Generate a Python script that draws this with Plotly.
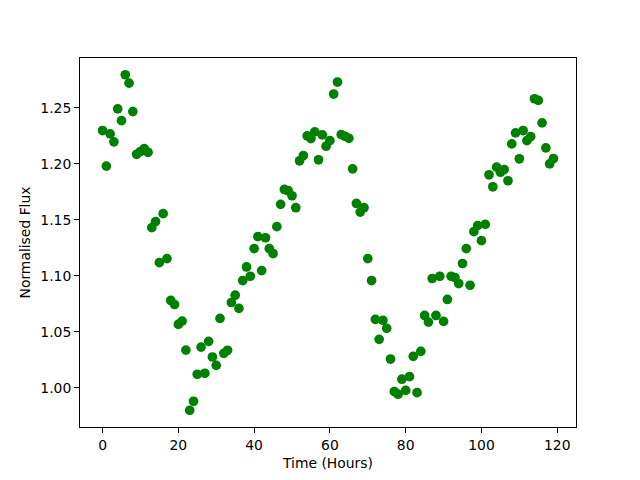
import plotly.graph_objects as go

hours = list(range(120))
flux = [
    1.2297, 1.198, 1.2267, 1.2196, 1.249, 1.2386, 1.2795, 1.272, 1.2466, 1.2085,
    1.211, 1.2136, 1.2103, 1.143, 1.1484, 1.1118, 1.1555, 1.1154, 1.078, 1.0744,
    1.0566, 1.0596, 1.0337, 0.980, 0.988, 1.0121, 1.0364, 1.013, 1.0415, 1.0275,
    1.0201, 1.062, 1.0308, 1.0335, 1.0762, 1.0827, 1.0709, 1.0958, 1.1079, 1.0996,
    1.1243, 1.135, 1.1047, 1.134, 1.1243, 1.1199, 1.1439, 1.1638, 1.1771, 1.176,
    1.1715, 1.1608, 1.2027, 1.2074, 1.2249, 1.2225, 1.2285, 1.2036, 1.2258, 1.2157,
    1.2207, 1.2623, 1.273, 1.2261, 1.2246, 1.2228, 1.1955, 1.1646, 1.1569, 1.1608,
    1.1154, 1.0958, 1.0611, 1.0433, 1.0602, 1.0531, 1.0257, 0.9966, 0.9943, 1.0077,
    0.9977, 1.01, 1.0281, 0.9957, 1.0326, 1.0646, 1.0587, 1.0976, 1.0646, 1.0996,
    1.0593, 1.0789, 1.0996, 1.0985, 1.0931, 1.111, 1.1243, 1.0916, 1.1394, 1.1448,
    1.1314, 1.1459, 1.1902, 1.1795, 1.197, 1.1925, 1.1949, 1.1849, 1.2178, 1.2276,
    1.2045, 1.2297, 1.2207, 1.2243, 1.2581, 1.2566, 1.2365, 1.2142, 1.2, 1.2047,
]
x_ticks = [0, 20, 40, 60, 80, 100, 120]
y_ticks = [1.00, 1.05, 1.10, 1.15, 1.20, 1.25]

def padded(vals, frac=0.05):
    lo, hi = min(vals), max(vals)
    m = (hi - lo) * frac
    return [lo - m, hi + m]

fig = go.Figure(go.Scatter(
    x=hours, y=flux, mode="markers",
    marker=dict(color="#008000", size=9.7, line=dict(width=0)),
))

font = dict(family="DejaVu Sans", size=13.9, color="black")
axis_common = dict(
    showgrid=False, zeroline=False, showline=True, mirror=True,
    linecolor="black", linewidth=1.1, ticks="outside", ticklen=4.9,
    tickwidth=1.1, tickcolor="black", tickfont=font,
)
# page body has an 8px default margin, so the figure is sized to compensate
fig.update_layout(
    width=632, height=472,
    margin=dict(l=72, r=64, t=50, b=53),
    plot_bgcolor="white", paper_bgcolor="white",
    showlegend=False, font=font,
    xaxis=dict(range=padded(hours), tickvals=x_ticks,
               title=dict(text="Time (Hours)", font=font, standoff=6), **axis_common),
    yaxis=dict(range=padded(flux), tickvals=y_ticks, tickformat=".2f",
               title=dict(text="Normalised Flux", font=font, standoff=6), **axis_common),
)
fig.write_html("out.html")
